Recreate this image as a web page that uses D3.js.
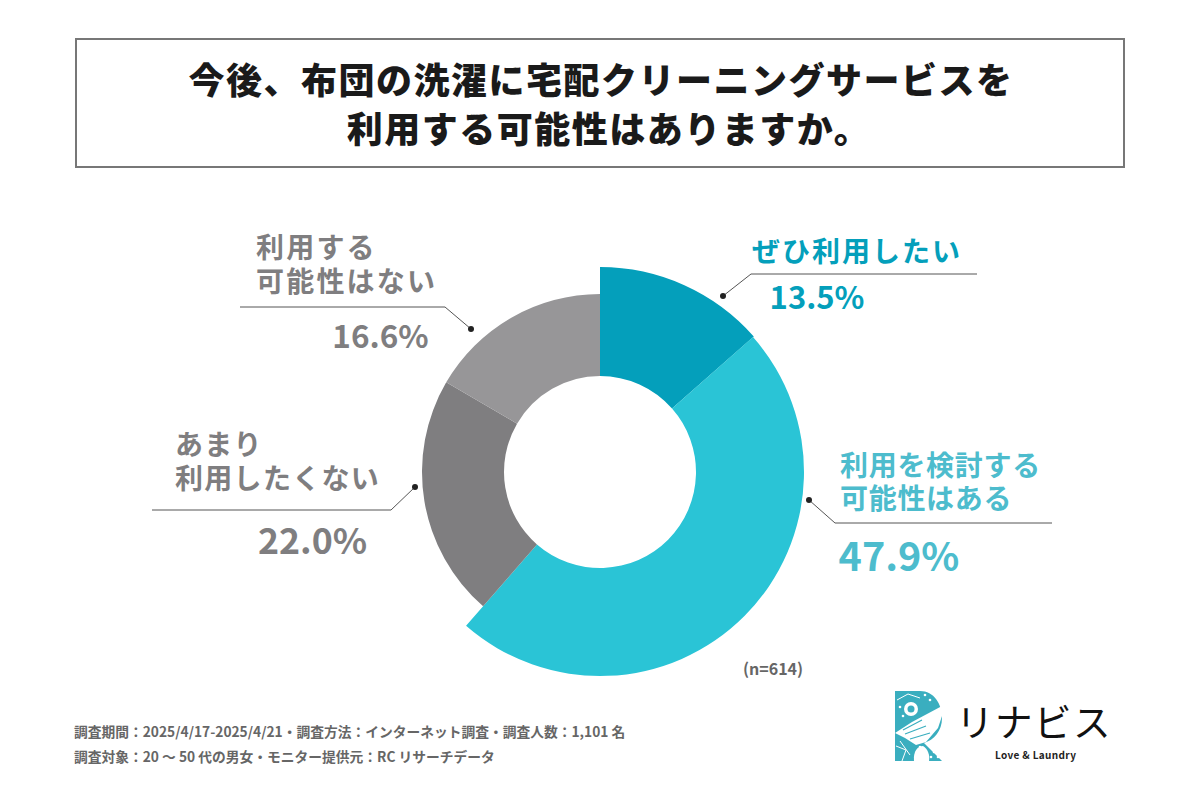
<!DOCTYPE html>
<html lang="ja"><head><meta charset="utf-8">
<style>html,body{margin:0;padding:0;background:#fff}svg{display:block}text{font-family:"Noto Sans CJK JP","Noto Sans",sans-serif}</style>
<script src="https://cdn.jsdelivr.net/npm/d3@7/dist/d3.min.js"></script></head><body>
<svg id="c" width="1200" height="800"></svg>
<script>
const categories=["ぜひ利用したい","利用を検討する可能性はある","あまり利用したくない","利用する可能性はない"];
const values=[13.5,47.9,22.0,16.6];
const sampleNote="(n=614)";
const titleLines=["今後、布団の洗濯に宅配クリーニングサービスを","利用する可能性はありますか。"];
const footerLines=["調査期間：2025/4/17-2025/4/21・調査方法：インターネット調査・調査人数：1,101 名","調査対象：20 ～ 50 代の男女・モニター提供元：RC リサーチデータ"];
const sliceColors=["#049fbb","#2ac4d6","#7f7e80","#979698"];
const textColors=["#049fbb","#4dbccd","#7f7e80","#7f7e80"];
const labelLines=[["ぜひ利用したい"],["利用を検討する","可能性はある"],["あまり","利用したくない"],["利用する","可能性はない"]];
const labelLayout=[
 {x:752,ys:[262],fs:28,ls:2,vx:817,vy:309,vfs:31,dot:[723,296],knee:[751,274],end:977},
 {x:840,ys:[476,509],fs:28,ls:0.7,vx:899,vy:571,vfs:39.5,dot:[809,500],knee:[835,523],end:1052},
 {x:175,ys:[455,489],fs:28,ls:1.3,vx:312.5,vy:554,vfs:35.7,dot:[415,487],knee:[391,510],end:152},
 {x:256,ys:[258,292],fs:28,ls:2.2,vx:380.5,vy:348,vfs:31.5,dot:[471,329],knee:[445,307],end:240}
];
const svg=d3.select("#c");
svg.append("rect").attr("x",76).attr("y",39).attr("width",1048).attr("height",128).attr("fill","#fff").attr("stroke","#777").attr("stroke-width",2);
svg.selectAll(".t").data(titleLines).join("text").attr("class","t").attr("x",(d,i)=>[601,609][i]).attr("y",(d,i)=>94+i*49)
 .attr("text-anchor","middle").attr("font-size",36).attr("font-weight",900).attr("letter-spacing",1.5).attr("fill","#1a1a1a").text(d=>d);
const pie=d3.pie().sort(null).value(d=>d)(values);
const g=svg.append("g").attr("transform","translate(600,472)");
const outer=[205,204,178,178];
const arc=d3.arc().innerRadius(96);
g.selectAll("path").data(pie).join("path").attr("d",(d,i)=>arc.outerRadius(outer[i])(d)).attr("fill",(d,i)=>sliceColors[i]);
const lab=svg.selectAll(".lab").data(categories).join("g").attr("class","lab");
lab.append("path").attr("fill","none").attr("stroke","#555").attr("stroke-width",1)
 .attr("d",(d,i)=>{const l=labelLayout[i];return d3.line()([l.dot,l.knee,[l.end,l.knee[1]]]);});
lab.append("circle").attr("r",3).attr("fill","#222").attr("cx",(d,i)=>labelLayout[i].dot[0]).attr("cy",(d,i)=>labelLayout[i].dot[1]);
lab.each(function(d,i){
 const l=labelLayout[i],s=d3.select(this);
 labelLines[i].forEach((t,j)=>s.append("text").attr("x",l.x).attr("y",l.ys[j]).attr("font-size",l.fs).attr("font-weight",700).attr("letter-spacing",l.ls).attr("fill",textColors[i]).text(t));
 s.append("text").attr("x",l.vx).attr("y",l.vy).attr("text-anchor","middle").attr("font-size",l.vfs).attr("font-weight",700).attr("fill",textColors[i]).text(d3.format(".1f")(values[i])+"%");
});
svg.append("text").attr("x",743).attr("y",675).attr("font-size",16).attr("font-weight",700).attr("fill","#666").text(sampleNote);
svg.selectAll(".f").data(footerLines).join("text").attr("class","f").attr("x",74).attr("y",(d,i)=>737+i*25)
 .attr("font-size",13.75).attr("font-weight",700).attr("fill","#666").text(d=>d);
// logo
const lg=svg.append("g");
const c1="#3aaebf";
lg.append("path").attr("fill",c1)
 .attr("d","M895 691H920C934 691 942 704 942 718C942 731 934 740 924 743L942 761H895Z");
lg.append("path").attr("fill","#fff").attr("d","M895 733L912 722L942 706V716L938 728L926 742L916 745L905 738Z");
lg.append("path").attr("fill","none").attr("stroke",c1).attr("stroke-width",1.2).attr("d","M905 734L926 726M910 739L930 733M903 730L922 720");
lg.append("path").attr("fill","#fff").attr("d","M914 761C913 751 918 746 923 746C928 749 930 755 929 761Z");
lg.append("path").attr("fill","none").attr("stroke","#fff").attr("stroke-width",1).attr("d","M896 746L906 750L902 761M900 741L910 755M897 700L908 694L920 698");
lg.append("circle").attr("cx",911).attr("cy",709).attr("r",7).attr("fill","#fff");
lg.append("circle").attr("cx",911).attr("cy",709).attr("r",3.5).attr("fill",c1);
lg.selectAll(".sp").data([[900,707],[925,695],[930,700],[934,752],[938,757],[931,757],[903,716],[920,747]]).join("circle").attr("class","sp")
 .attr("cx",d=>d[0]).attr("cy",d=>d[1]).attr("r",1.3).attr("fill","#fff");
svg.append("text").attr("x",956).attr("y",736).attr("font-size",37.5).attr("font-weight",400).attr("letter-spacing",1.5).attr("fill","#111").text("リナビス");
svg.append("text").attr("x",995).attr("y",759).attr("font-size",10).attr("font-weight",700).attr("letter-spacing",0.35).attr("fill","#222").text("Love & Laundry");
</script></body></html>
